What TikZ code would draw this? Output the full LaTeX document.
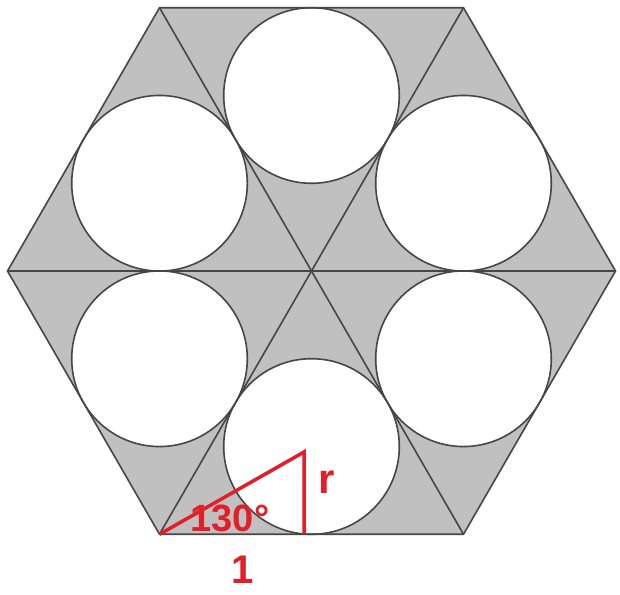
\documentclass[tikz,border=0pt]{standalone}
\usepackage{fontspec}
\setmainfont{Liberation Sans}
\usetikzlibrary{calc}
\definecolor{cellgray}{RGB}{192,192,192}
\definecolor{edgegray}{RGB}{70,70,70}
\definecolor{markred}{RGB}{226,30,40}

\begin{document}
\begin{tikzpicture}[x=1pt, y=-1pt,
    edge/.style={draw=edgegray, line width=1.6pt},
    ring/.style={circle, draw=edgegray, line width=1.6pt, fill=white,
                 minimum size=175.6pt, inner sep=0pt},
    redline/.style={draw=markred, line width=3.5pt},
    redlabel/.style={text=markred, inner sep=0pt,
                     font=\bfseries\fontsize{42}{42}\selectfont}
]
\useasboundingbox (0,0) rectangle (620,594);

% hexagon corners and incircle centres
\coordinate (c) at (311.5,271);
\foreach \k in {0,...,5}
    \coordinate (v\k) at ($(c)+({60*\k}:304)$);

\fill[cellgray] (v0) -- (v1) -- (v2) -- (v3) -- (v4) -- (v5) -- cycle;

\foreach \k in {0,...,5}
    \node[ring] (o\k) at ($(c)+({30+60*\k}:175.5)$) {};

% outline and diagonals
\draw[edge] (v0) -- (v1) -- (v2) -- (v3) -- (v4) -- (v5) -- cycle;
\draw[edge] (v0) -- (v3);
\draw[edge] (v1) -- (v4);
\draw[edge] (v2) -- (v5);

% red construction in the bottom triangle
\coordinate (rtop) at (304,452);
\coordinate (rfoot) at (304,534);
\draw[redline] (v2) -- (rtop) -- (rfoot);

\node[redlabel] (rlab) at (327,482) {r};
\node[redlabel, font=\bfseries\fontsize{38}{38}\selectfont] (anglab) at (230,518) {130°};
\node[redlabel, font=\bfseries\fontsize{40}{40}\selectfont] (onelab) at (243,570) {1};

\end{tikzpicture}
\end{document}
